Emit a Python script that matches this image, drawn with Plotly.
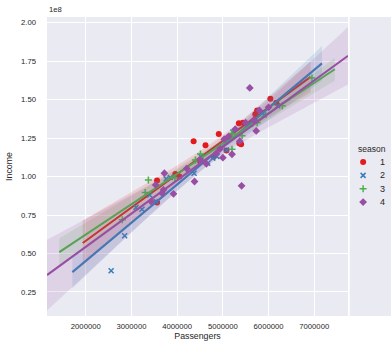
import numpy as np
import plotly.graph_objects as go

# ---------------- data ----------------
seasons = ["1", "2", "3", "4"]

s1_passengers = [3560000, 3560000, 3960000, 4050000, 4360000, 4500000, 4620000, 4800000, 4910000,
                 5080000, 5350000, 5360000, 5400000, 5440000, 5710000, 5750000, 6040000, 6170000]
s1_income = [97400000, 83100000, 101700000, 100000000, 123000000, 110000000, 120400000, 113000000, 127700000,
             117000000, 134700000, 121700000, 121000000, 135000000, 140500000, 143000000, 150500000, 148000000]

s2_passengers = [2555000, 2850000, 3100000, 3230000, 3400000, 3540000, 3760000, 3850000, 4370000,
                 4520000, 4670000, 4780000, 4870000, 5080000, 5220000, 5600000, 5900000, 6200000]
s2_income = [38800000, 61500000, 80000000, 78800000, 88000000, 83800000, 98500000, 99400000, 102200000,
             113000000, 108700000, 112000000, 113000000, 117300000, 129000000, 134000000, 140000000, 146000000]

s3_passengers = [2800000, 3300000, 3370000, 3950000, 4400000, 4510000, 5200000, 5200000, 5420000,
                 5750000, 6300000, 6950000]
s3_income = [72000000, 89600000, 97700000, 99000000, 110800000, 114600000, 117800000, 128000000, 126600000,
             135000000, 146000000, 164000000]

s4_passengers = [3430000, 3530000, 3670000, 3700000, 3720000, 3920000, 4210000, 4380000, 4500000,
                 4640000, 4860000, 4940000, 5000000, 5030000, 5120000, 5200000, 5270000, 5370000,
                 5410000, 5500000, 5590000, 5680000, 5730000, 5800000, 6000000]
s4_income = [83800000, 94600000, 89200000, 91400000, 102200000, 88800000, 105200000, 96800000, 111000000,
             108300000, 115200000, 118000000, 112300000, 124300000, 126000000, 114500000, 130800000, 123000000,
             94000000, 135000000, 157600000, 136800000, 129700000, 143000000, 145000000]

# x extent over which each regression line is drawn (axis limits at drawing time)
fit_x_start = [1934000, 1706000, 1420000, 1151000]
fit_x_end = [6920000, 7170000, 7450000, 7739000]

x_ticks = [2000000, 3000000, 4000000, 5000000, 6000000, 7000000]
x_tick_labels = ["2000000", "3000000", "4000000", "5000000", "6000000", "7000000"]
y_ticks = [25000000, 50000000, 75000000, 100000000, 125000000, 150000000, 175000000, 200000000]
y_tick_labels = ["0.25", "0.50", "0.75", "1.00", "1.25", "1.50", "1.75", "2.00"]

# ---------------- style ----------------
colors = ["#e41a1c", "#377eb8", "#4daf4a", "#984ea3"]
fills = ["rgba(228,26,28,0.15)", "rgba(55,126,184,0.15)", "rgba(77,175,74,0.15)", "rgba(152,78,163,0.15)"]
symbols = ["circle", "x-thin", "cross-thin", "diamond"]
sizes = [6, 5, 5, 6]
FONT = "Liberation Sans, Arial, sans-serif"
TXT = "#262626"

xs_all = [s1_passengers, s2_passengers, s3_passengers, s4_passengers]
ys_all = [s1_income, s2_income, s3_income, s4_income]


def marker_for(i):
    if symbols[i] in ("x-thin", "cross-thin"):
        return dict(symbol=symbols[i], size=sizes[i], color=colors[i],
                    line=dict(width=1.5, color=colors[i]))
    return dict(symbol=symbols[i], size=sizes[i], color=colors[i], line=dict(width=0))


fig = go.Figure()

for i, s in enumerate(seasons):
    x = np.array(xs_all[i], dtype=float)
    y = np.array(ys_all[i], dtype=float)
    fig.add_trace(go.Scatter(x=x, y=y, mode="markers", marker=marker_for(i),
                             showlegend=False, hoverinfo="skip"))
    # linear regression with 95% CI
    n = len(x)
    slope, intercept = np.polyfit(x, y, 1)
    xg = np.linspace(fit_x_start[i], fit_x_end[i], 100)
    yg = intercept + slope * xg
    resid = y - (intercept + slope * x)
    sres = np.sqrt(np.sum(resid ** 2) / (n - 2))
    xm = x.mean()
    sxx = np.sum((x - xm) ** 2)
    se = sres * np.sqrt(1.0 / n + (xg - xm) ** 2 / sxx)
    hi = yg + 2.3 * se
    lo = yg - 2.3 * se
    fig.add_trace(go.Scatter(x=np.concatenate([xg, xg[::-1]]), y=np.concatenate([hi, lo[::-1]]),
                             fill="toself", fillcolor=fills[i], line=dict(width=0),
                             mode="lines", showlegend=False, hoverinfo="skip"))
    fig.add_trace(go.Scatter(x=xg, y=yg, mode="lines", line=dict(color=colors[i], width=2),
                             showlegend=False, hoverinfo="skip"))

# custom legend on an auxiliary axis
for i, s in enumerate(seasons):
    fig.add_trace(go.Scatter(x=[0], y=[int(s)], mode="markers", marker=marker_for(i),
                             xaxis="x2", yaxis="y2", showlegend=False, hoverinfo="skip"))

annotations = []
for i, s in enumerate(seasons):
    annotations.append(dict(x=15, y=int(s), xref="x2", yref="y2", text=s, showarrow=False,
                            xanchor="left", yanchor="middle",
                            font=dict(family=FONT, size=9, color=TXT)))
annotations.append(dict(x=-7, y=0, xref="x2", yref="y2", text="season", showarrow=False,
                        xanchor="left", yanchor="middle", font=dict(family=FONT, size=8.5, color=TXT)))
annotations.append(dict(x=0, y=1, xref="paper", yref="paper", text="1e8", showarrow=False,
                        xanchor="left", yanchor="bottom", yshift=1,
                        font=dict(family=FONT, size=7.7, color=TXT)))

W, H = 391, 353
ml, mr, mt, mb = 47, 0, 17, 37
plot_right = 348
dom_end = (plot_right - ml) / (W - ml - mr)

fig.update_layout(
    width=W, height=H,
    margin=dict(l=ml, r=mr, t=mt, b=mb, pad=0),
    paper_bgcolor="white",
    plot_bgcolor="#EAEAF2",
    font=dict(family=FONT, size=7.7, color=TXT),
    annotations=annotations,
    showlegend=False,
    xaxis=dict(domain=[0, dom_end], range=[1151000, 7739000], tickvals=x_ticks, ticktext=x_tick_labels,
               showgrid=True, gridcolor="white", gridwidth=1, zeroline=False, showline=False,
               ticks="", ticklabelstandoff=4, tickfont=dict(size=7.7, color=TXT),
               title=dict(text="Passengers", font=dict(size=8.8, color=TXT), standoff=3)),
    yaxis=dict(range=[9400000, 203700000], tickvals=y_ticks, ticktext=y_tick_labels,
               showgrid=True, gridcolor="white", gridwidth=1, zeroline=False, showline=False,
               ticks="", ticklabelstandoff=10, tickfont=dict(size=7.7, color=TXT),
               title=dict(text="Income", font=dict(size=8.8, color=TXT), standoff=6)),
    xaxis2=dict(domain=[dom_end + 0.005, 1.0], range=[-13.3, 27.7], visible=False, anchor="y2",
                fixedrange=True),
    yaxis2=dict(domain=[0, 1], range=[12.55, -9.88], visible=False, anchor="x2", fixedrange=True),
)

fig.write_html("out.html")
